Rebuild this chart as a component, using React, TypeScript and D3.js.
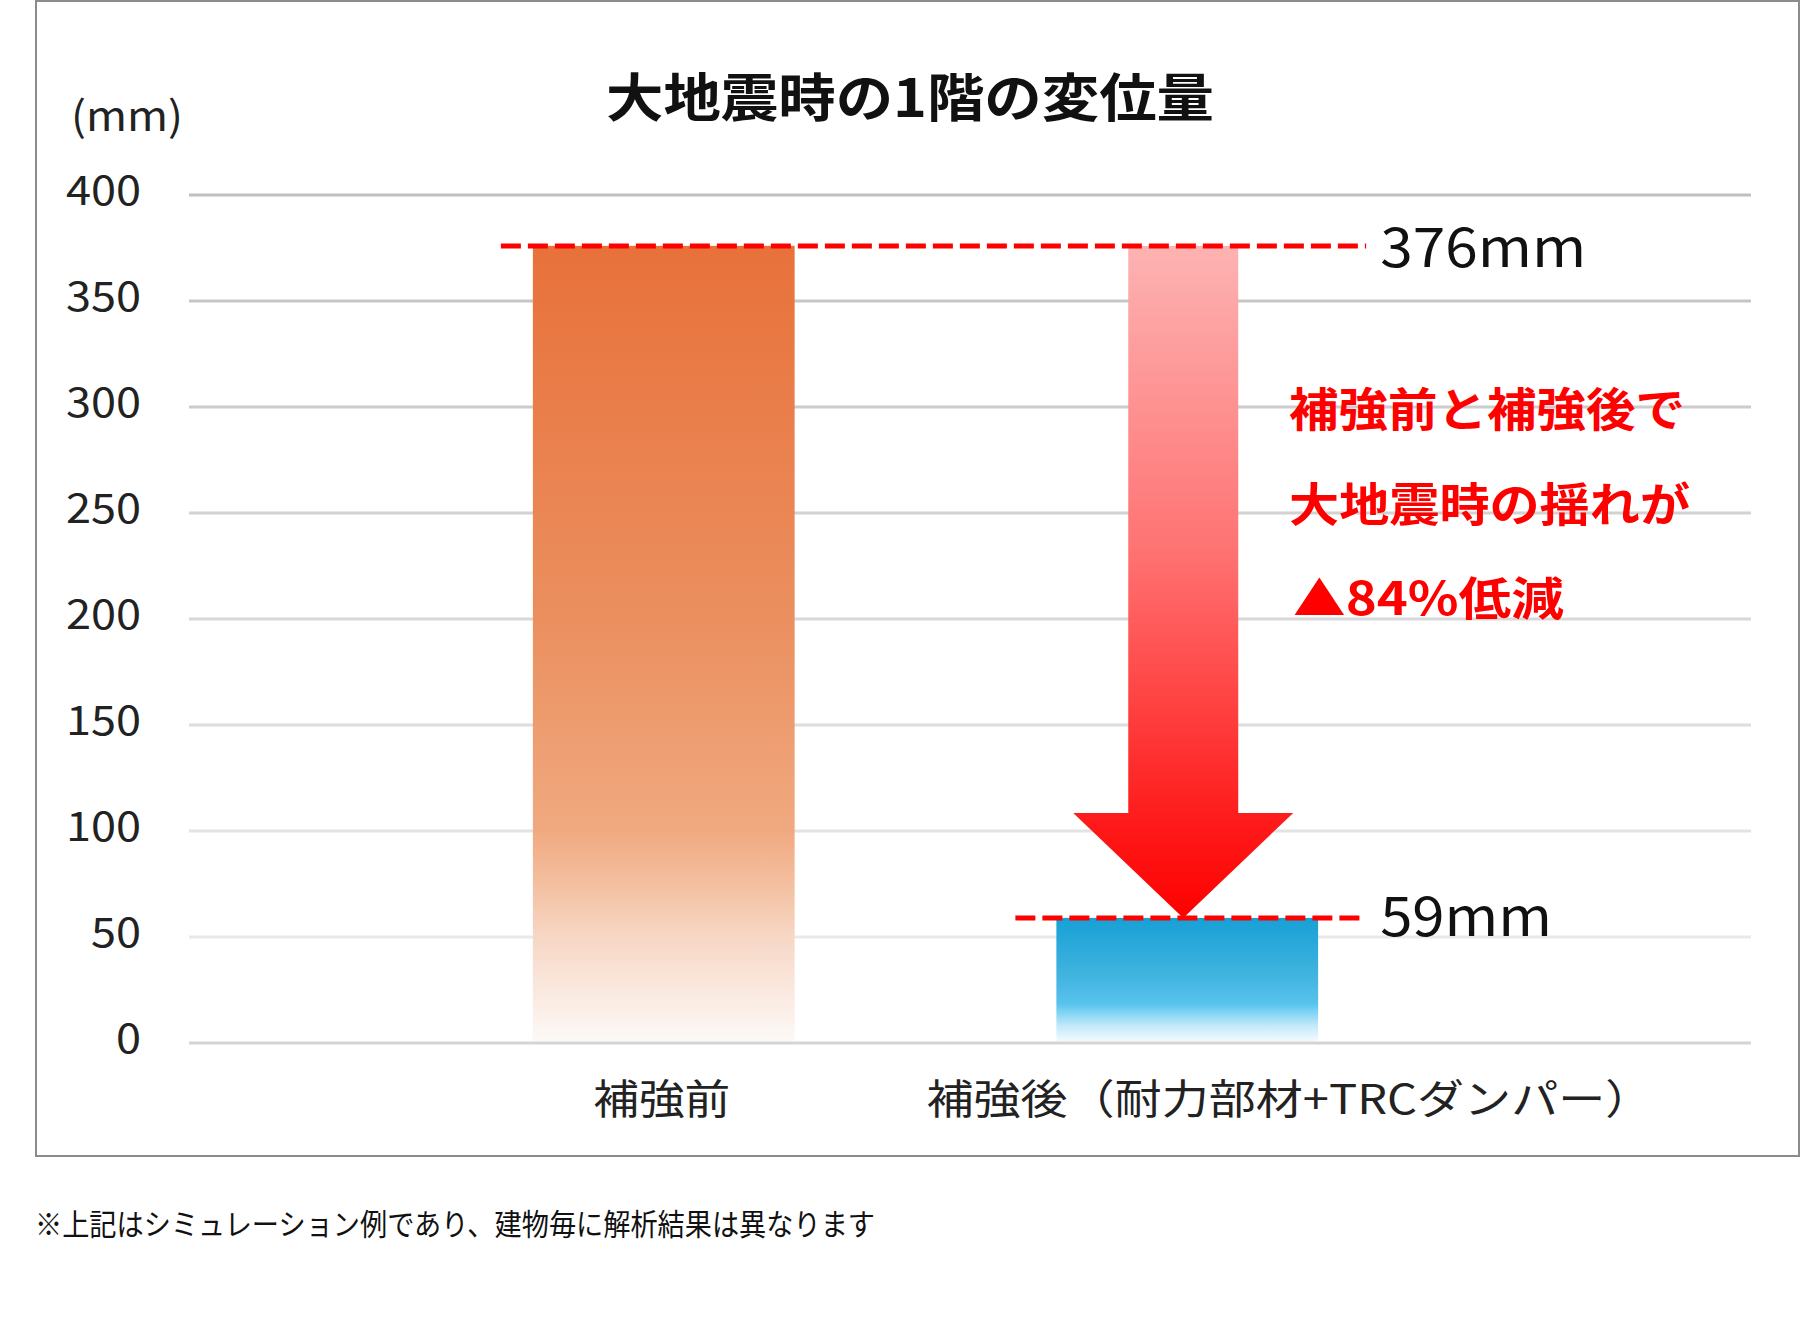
import React from "react";
import * as d3 from "d3";

const categories = ["補強前", "補強後（耐力部材+TRCダンパー）"];
const values = [376, 59];
const valueLabels = ["376mm", "59mm"];
const yTicks = [0, 50, 100, 150, 200, 250, 300, 350, 400];
const title = "大地震時の1階の変位量";
const unitLabel = "(mm)";
const noteLines = ["補強前と補強後で", "大地震時の揺れが", "▲84%低減"];
const footnote = "※上記はシミュレーション例であり、建物毎に解析結果は異なります";

const W = 1802;
const H = 1334;
const FONT = "'Noto Sans CJK JP', 'Noto Sans', sans-serif";

export default function App() {
  const y = d3.scaleLinear().domain([0, 400]).range([1043, 195]);
  const x = d3
    .scaleBand<string>()
    .domain(categories)
    .range([402, 1449])
    .paddingInner(0.5)
    .paddingOuter(0.25);
  const bw = x.bandwidth();
  const gridColor = (v: number) =>
    v === 0 ? "#d4d4d4" : d3.interpolateRgb("#efefef", "#c0c0c0")(v / 400);

  const x0 = x(categories[0])!;
  const x1 = x(categories[1])!;
  const dashEnd = x1 + bw + 48;

  // arrow geometry
  const ax = x1 + bw / 2 - 4;
  const shaftHalf = 55;
  const headHalf = 110;
  const headH = 105;
  const yTop = y(values[0]);
  const yTip = y(values[1]);
  const arrowPath = d3.path();
  arrowPath.moveTo(ax - shaftHalf, yTop);
  arrowPath.lineTo(ax + shaftHalf, yTop);
  arrowPath.lineTo(ax + shaftHalf, yTip - headH);
  arrowPath.lineTo(ax + headHalf, yTip - headH);
  arrowPath.lineTo(ax, yTip);
  arrowPath.lineTo(ax - headHalf, yTip - headH);
  arrowPath.lineTo(ax - shaftHalf, yTip - headH);
  arrowPath.closePath();

  const labelLens = [206, 172];
  const noteLens = [396, 401, 271];

  return (
    <svg
      width={W}
      height={H}
      style={{ position: "absolute", left: 0, top: 0, display: "block", background: "#fff" }}
      fontFamily={FONT}
    >
      <defs>
        <linearGradient id="gOrange" x1="0" y1="0" x2="0" y2="1">
          <stop offset="0" stopColor="#e8713a" />
          <stop offset="0.468" stopColor="#eb8f5f" />
          <stop offset="0.734" stopColor="#f0a97f" />
          <stop offset="0.795" stopColor="#f3bd9c" />
          <stop offset="0.867" stopColor="#f7d6c4" />
          <stop offset="1" stopColor="#fdf9f7" />
        </linearGradient>
        <linearGradient id="gBlue" x1="0" y1="0" x2="0" y2="1">
          <stop offset="0" stopColor="#17a0d6" />
          <stop offset="0.45" stopColor="#3fb3df" />
          <stop offset="0.7" stopColor="#58c3ec" />
          <stop offset="0.76" stopColor="#7cd2f2" />
          <stop offset="0.88" stopColor="#c4eaf9" />
          <stop offset="1" stopColor="#f2fbfe" />
        </linearGradient>
        <linearGradient id="gRed" x1="0" y1="0" x2="0" y2="1">
          <stop offset="0" stopColor="#fdb3b3" />
          <stop offset="0.45" stopColor="#ff7373" />
          <stop offset="0.66" stopColor="#ff4646" />
          <stop offset="0.84" stopColor="#fe1e1e" />
          <stop offset="1" stopColor="#fe0000" />
        </linearGradient>
      </defs>

      {/* frame */}
      <rect x={36} y={1} width={1763} height={1155} fill="#fff" stroke="#8c8c8c" strokeWidth={2} />

      {/* gridlines */}
      {yTicks.map((t) => (
        <line key={t} x1={189} x2={1751} y1={y(t)} y2={y(t)} stroke={gridColor(t)} strokeWidth={3} />
      ))}

      {/* y tick labels */}
      {yTicks.map((t) => (
        <text
          key={"l" + t}
          x={141}
          y={y(t) - 8}
          textAnchor="end"
          dominantBaseline="central"
          fontSize={41}
          fill="#222"
          textLength={String(t).length * 25}
          lengthAdjust="spacingAndGlyphs"
        >
          {t}
        </text>
      ))}
      <text x={71} y={113} dominantBaseline="central" fontSize={41} fill="#222" textLength={112} lengthAdjust="spacingAndGlyphs">
        {unitLabel}
      </text>

      {/* title */}
      <text
        x={910}
        y={94}
        textAnchor="middle"
        dominantBaseline="central"
        fontSize={52}
        fontWeight={700}
        fill="#111"
        textLength={608}
        lengthAdjust="spacingAndGlyphs"
      >
        {title}
      </text>

      {/* bars */}
      <rect x={x0} y={y(values[0])} width={bw} height={y(0) - y(values[0]) - 2} fill="url(#gOrange)" />
      <rect x={x1} y={y(values[1])} width={bw} height={y(0) - y(values[1]) - 2} fill="url(#gBlue)" />

      {/* arrow */}
      <path d={arrowPath.toString()} fill="url(#gRed)" />

      {/* dashed reference lines */}
      <line x1={x0 - 32} x2={dashEnd} y1={y(values[0])} y2={y(values[0])} stroke="#ff0000" strokeWidth={5} strokeDasharray="20 7" />
      <line x1={x1 - 41} x2={dashEnd} y1={y(values[1])} y2={y(values[1])} stroke="#ff0000" strokeWidth={5} strokeDasharray="20 7" />

      {/* value labels */}
      {values.map((v, i) => (
        <text
          key={"v" + i}
          x={dashEnd + 14}
          y={y(v) + (i === 0 ? -2 : -5)}
          dominantBaseline="central"
          fontSize={54}
          fill="#111"
          textLength={labelLens[i]}
          lengthAdjust="spacingAndGlyphs"
        >
          {valueLabels[i]}
        </text>
      ))}

      {/* red note */}
      {noteLines.map((s, i) => (
        <text
          key={"n" + i}
          x={1289 + (i === 2 ? 4 : 0)}
          y={406 + i * 94.5}
          dominantBaseline="central"
          fontSize={46}
          fontWeight={700}
          fill="#ff0000"
          textLength={noteLens[i]}
          lengthAdjust="spacingAndGlyphs"
        >
          {s}
        </text>
      ))}

      {/* category labels */}
      <text x={x0 + bw / 2 - 2} y={1096} textAnchor="middle" dominantBaseline="central" fontSize={41} fill="#222" textLength={137} lengthAdjust="spacingAndGlyphs">
        {categories[0]}
      </text>
      <text x={x1 - 130} y={1096} dominantBaseline="central" fontSize={41} fill="#222" textLength={726} lengthAdjust="spacingAndGlyphs">
        {categories[1]}
      </text>

      {/* footnote */}
      <text x={35} y={1222} dominantBaseline="central" fontSize={30} fill="#111" textLength={840} lengthAdjust="spacingAndGlyphs">
        {footnote}
      </text>
    </svg>
  );
}
